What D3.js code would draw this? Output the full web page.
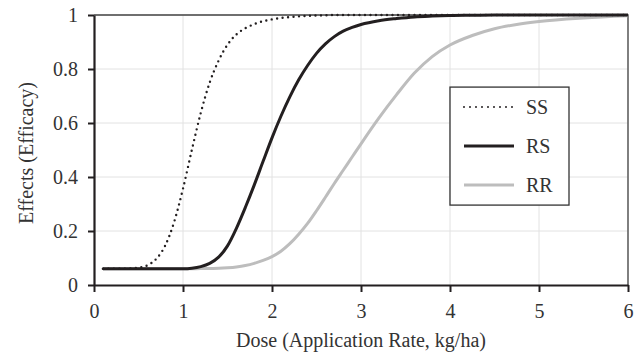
<!DOCTYPE html>
<html>
<head>
<meta charset="utf-8">
<script src="https://cdn.jsdelivr.net/npm/d3@7"></script>
<style>
  body { margin: 0; background: #fff; }
  text { font-family: "Liberation Serif", "DejaVu Serif", serif; fill: #333; }
</style>
</head>
<body>
<svg width="643" height="355"></svg>
<script>
// Data
const dose = [0.1, 0.3, 0.5, 0.6, 0.7, 0.8, 0.9, 1.0, 1.1, 1.2, 1.3, 1.4, 1.5, 1.6, 1.7, 1.8, 1.9, 2.0,
  2.1, 2.2, 2.3, 2.4, 2.5, 2.6, 2.7, 2.8, 2.9, 3.0, 3.2, 3.4, 3.6, 3.8, 4.0, 4.25, 4.5, 4.75, 5.0, 5.5, 6.0];
const ss = [0.06, 0.06, 0.064, 0.073, 0.097, 0.146, 0.233, 0.357, 0.501, 0.638, 0.75, 0.831, 0.89, 0.928, 0.951, 0.966, 0.977, 0.984,
  0.989, 0.992, 0.995, 0.997, 0.998, 0.999, 1, 1, 1, 1, 1, 1, 1, 1, 1, 1, 1, 1, 1, 1, 1];
const rs = [0.06, 0.06, 0.06, 0.06, 0.06, 0.06, 0.06, 0.06, 0.062, 0.068, 0.08, 0.103, 0.145, 0.21, 0.287, 0.37, 0.458, 0.545,
  0.625, 0.697, 0.76, 0.813, 0.858, 0.893, 0.92, 0.94, 0.954, 0.965, 0.979, 0.987, 0.993, 0.996, 0.998, 0.999, 1, 1, 1, 1, 1];
const rr = [0.06, 0.06, 0.06, 0.06, 0.06, 0.06, 0.06, 0.06, 0.06, 0.061, 0.061, 0.062, 0.064, 0.067, 0.072, 0.08, 0.091, 0.105,
  0.125, 0.153, 0.188, 0.228, 0.275, 0.325, 0.376, 0.425, 0.474, 0.523, 0.618, 0.705, 0.785, 0.846, 0.889, 0.924, 0.949, 0.965, 0.976, 0.989, 0.997];
const seriesNames = ["SS", "RS", "RR"];
const xTicks = [0, 1, 2, 3, 4, 5, 6];
const yTicks = [0, 0.2, 0.4, 0.6, 0.8, 1];

const margin = {top: 15, right: 15, bottom: 70, left: 94},
    width = 643 - margin.left - margin.right,
    height = 355 - margin.top - margin.bottom;

const svg = d3.select("svg")
  .append("g")
    .attr("transform", `translate(${margin.left},${margin.top})`);

const x = d3.scaleLinear().domain([0, 6]).range([0, width]);
const y = d3.scaleLinear().domain([0, 1]).range([height, 0]);

// Grid
svg.append("g").selectAll("line")
  .data(xTicks.slice(1))
  .join("line")
    .attr("x1", d => x(d)).attr("x2", d => x(d))
    .attr("y1", 0).attr("y2", height)
    .attr("stroke", "#e2e2e2");
svg.append("g").selectAll("line")
  .data(yTicks.slice(1))
  .join("line")
    .attr("x1", 0).attr("x2", width)
    .attr("y1", d => y(d)).attr("y2", d => y(d))
    .attr("stroke", "#e2e2e2");

// Frame top/right
svg.append("path")
  .attr("d", `M0,0H${width}V${height}`)
  .attr("fill", "none")
  .attr("stroke", "#444")
  .attr("stroke-width", 1.3);

// Curves
const line = d3.line()
  .x((d, i) => x(dose[i]))
  .y(d => y(d))
  .curve(d3.curveMonotoneX);

svg.append("path").datum(rr)
  .attr("d", line).attr("fill", "none")
  .attr("stroke", "#bdbdbd").attr("stroke-width", 3);
svg.append("path").datum(rs)
  .attr("d", line).attr("fill", "none")
  .attr("stroke", "#231f20").attr("stroke-width", 3);
svg.append("path").datum(ss)
  .attr("d", line).attr("fill", "none")
  .attr("stroke", "#231f20").attr("stroke-width", 2.4)
  .attr("stroke-linecap", "round")
  .attr("stroke-dasharray", "0,5.5");

// Axes
const xAxis = svg.append("g")
  .attr("transform", `translate(0,${height})`)
  .call(d3.axisBottom(x).tickValues(xTicks).tickFormat(d3.format("d")).tickSize(7).tickSizeOuter(0).tickPadding(12));
const yAxis = svg.append("g")
  .call(d3.axisLeft(y).tickValues(yTicks).tickFormat(d => d === 0 || d === 1 ? d : d.toFixed(1)).tickSize(6).tickSizeOuter(0).tickPadding(10));
[xAxis, yAxis].forEach(a => {
  a.select(".domain").attr("stroke", "#231f20").attr("stroke-width", 2.2);
  a.selectAll(".tick line").attr("stroke", "#231f20").attr("stroke-width", 2);
  a.selectAll("text").attr("font-size", 20).attr("fill", "#333");
});

// Axis titles
svg.append("text")
  .attr("x", width / 2).attr("y", height + 62)
  .attr("text-anchor", "middle").attr("font-size", 20)
  .text("Dose (Application Rate, kg/ha)");
svg.append("text")
  .attr("transform", `translate(${-61},${y(0.5) + 3}) rotate(-90)`)
  .attr("text-anchor", "middle").attr("font-size", 20)
  .text("Effects (Efficacy)");

// Legend
const legend = svg.append("g").attr("transform", `translate(${x(4.0)},${y(0.733)})`);
legend.append("rect")
  .attr("width", 119).attr("height", 118)
  .attr("fill", "#fff").attr("stroke", "#333").attr("stroke-width", 1.3);
const legendStyle = [
  {stroke: "#231f20", w: 2, dash: "0,6"},
  {stroke: "#231f20", w: 3, dash: null},
  {stroke: "#bdbdbd", w: 3, dash: null}
];
seriesNames.forEach((name, i) => {
  const ly = 20 + i * 39;
  legend.append("line")
    .attr("x1", 14).attr("x2", 64).attr("y1", ly).attr("y2", ly)
    .attr("stroke", legendStyle[i].stroke).attr("stroke-width", legendStyle[i].w)
    .attr("stroke-linecap", legendStyle[i].dash ? "round" : "butt")
    .attr("stroke-dasharray", legendStyle[i].dash);
  legend.append("text")
    .attr("x", 76).attr("y", ly + 7)
    .attr("font-size", 20)
    .text(name);
});
</script>
</body>
</html>
